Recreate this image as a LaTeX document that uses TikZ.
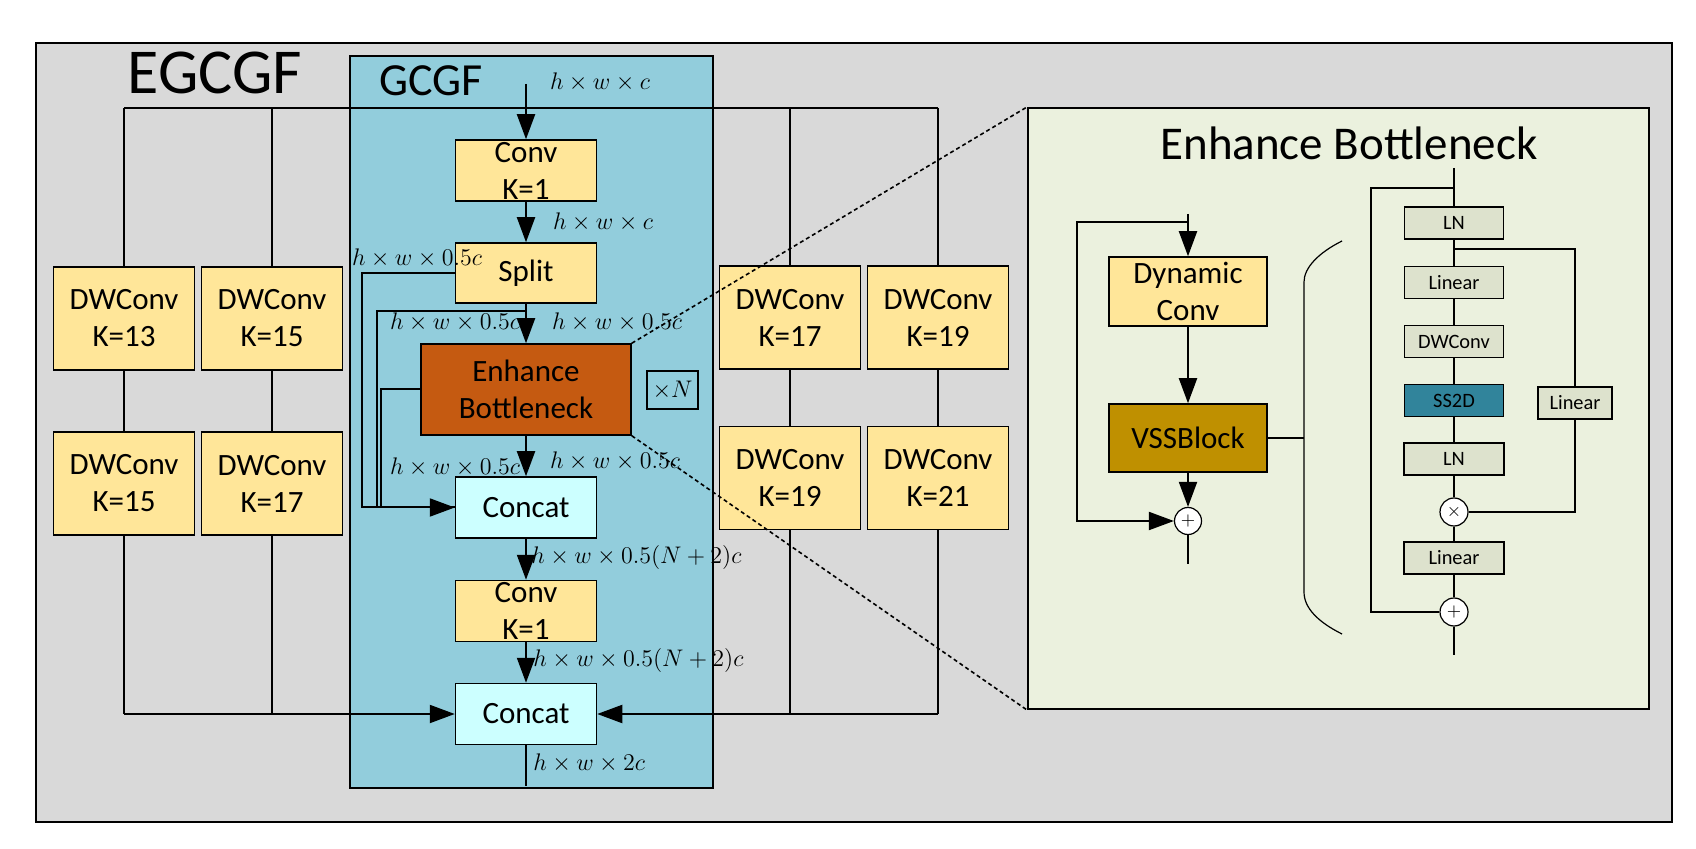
\documentclass[tikz,border=0pt]{standalone}
\usepackage{fontspec}
\setmainfont{Carlito}
\usetikzlibrary{arrows.meta}

\definecolor{framegray}{HTML}{D9D9D9}
\definecolor{gcgfblue}{HTML}{92CDDC}
\definecolor{convyellow}{HTML}{FFE699}
\definecolor{ebbrown}{HTML}{C55A11}
\definecolor{catcyan}{HTML}{CCFFFF}
\definecolor{panelgreen}{HTML}{EBF1DE}
\definecolor{vssgold}{HTML}{BF9000}
\definecolor{ssteal}{HTML}{31849B}
\definecolor{opgray}{HTML}{DDE2CD}

\begin{document}
\begin{tikzpicture}[x = 0.5pt, y = -0.5pt,
        line/.style = {line width = 1pt},
        arr/.style = {line width = 1pt, -{Triangle[length = 12.5pt, width = 9pt]}},
        box/.style = {draw, line width = 0.75pt, inner sep = 0pt, align = center, font = {\fontsize{15.5}{18.5}\selectfont}},
        dwbox/.style = {box, fill = convyellow, minimum width = 70.5pt, minimum height = 51.5pt},
        convbox/.style = {box, fill = convyellow, minimum width = 70.5pt, minimum height = 30.5pt},
        catbox/.style = {box, fill = catcyan, minimum width = 70.5pt, minimum height = 30.5pt},
        opbox/.style = {draw, line width = 0.75pt, fill = opgray, inner sep = 0pt, minimum width = 49.5pt, minimum height = 16pt, font = {\fontsize{10.2}{12}\selectfont}},
        opcirc/.style = {draw, circle, line width = 0.6pt, fill = white, inner sep = 0pt, minimum size = 14pt, font = {\fontsize{9}{9}\selectfont}},
        dims/.style = {font = {\fontsize{13.2}{15}\selectfont}, inner sep = 0pt},
        zoomline/.style = {line width = 0.8pt, dash pattern = on 2pt off 1.5pt}]
    \useasboundingbox (0,0) rectangle (1696,849);
    \draw[line, fill = framegray] (36,43) rectangle (1672,822);
    \node[font = {\fontsize{32}{32}\selectfont}] (egcgf) at (215,73) {EGCGF};
    \draw[line, fill = gcgfblue] (350,56) rectangle (713,788);
    \node[font = {\fontsize{23}{23}\selectfont}] (gcgf) at (431,81) {GCGF};

    \foreach \x [count = \i] in {124, 272, 790, 938} {
        \coordinate (top\i) at (\x,108);
        \coordinate (bot\i) at (\x,714);
        \draw[line] (top\i) -- (bot\i);
    }
    \draw[line] (top1) -- (top4);

    \foreach \n/\x/\y/\k in {dwa/124/318.5/13, dwb/272/318.5/15, dwc/124/483.5/15, dwd/272/483.5/17,
            dwe/790/317.5/17, dwf/938/317.5/19, dwg/790/478/19, dwh/938/478/21}
        \node[dwbox] (\n) at (\x,\y) {DWConv\\K=\k};

    \node[convbox] (conv1) at (526,170.5) {Conv\\K=1};
    \node[convbox, minimum height = 30pt] (split) at (526,273) {Split};
    \node[box, fill = ebbrown, minimum width = 105pt, minimum height = 45.5pt] (eb) at (526,389.5) {Enhance\\Bottleneck};
    \node[draw, line width = 0.6pt, minimum width = 25.5pt, minimum height = 19pt, dims] (times) at (672.5,390) {$\times N$};
    \node[catbox] (cc1) at (526,507.5) {Concat};
    \node[convbox] (conv2) at (526,611) {Conv\\K=1};
    \node[catbox] (cc2) at (526,714) {Concat};

    \node[dims] (din) at (600,82) {$h\times w\times c$};
    \node[dims] (dconv) at (603,222) {$h\times w\times c$};
    \node[dims] (dsplit) at (417,258) {$h\times w\times 0.5c$};
    \node[dims] (debl) at (455,322) {$h\times w\times 0.5c$};
    \node[dims] (debr) at (617,322) {$h\times w\times 0.5c$};
    \node[dims] (dcatl) at (455,467) {$h\times w\times 0.5c$};
    \node[dims] (dcatr) at (615,461) {$h\times w\times 0.5c$};
    \node[dims, anchor = west] (dconvb) at (531,557) {$h\times w\times 0.5(N+2)c$};
    \node[dims, anchor = west] (dcatb) at (533,660) {$h\times w\times 0.5(N+2)c$};
    \node[dims, anchor = west] (dout) at (533,763) {$h\times w\times 2c$};

    \coordinate (fb1) at (362,0);
    \coordinate (fb2) at (377,311);
    \coordinate (fb3) at (381,0);
    \draw[line] (split.west) -- (split.west -| fb1) |- (cc1.west);
    \draw[line] (split.south |- fb2) -- (fb2) |- (cc1.west);
    \draw[arr] (eb.west) -- (eb.west -| fb3) |- (cc1.west);

    \coordinate (in1) at (526,84);
    \coordinate (out1) at (526,786);
    \draw[arr] (in1) -- (conv1);
    \draw[arr] (conv1) -- (split);
    \draw[arr] (split) -- (eb);
    \draw[arr] (eb) -- (cc1);
    \draw[arr] (cc1) -- (conv2);
    \draw[arr] (conv2) -- (cc2);
    \draw[line] (cc2) -- (out1);
    \draw[arr] (bot1) -- (cc2.west);
    \draw[arr] (bot4) -- (cc2.east);

    \node[draw, line width = 1pt, fill = panelgreen, minimum width = 310.5pt, minimum height = 300.5pt, inner sep = 0pt] (panel) at (1338.5,408.5) {};
    \draw[zoomline] (eb.north east) -- (panel.north west);
    \draw[zoomline] (eb.south east) -- (panel.south west);
    \node[font = {\fontsize{23.5}{23.5}\selectfont}] (ebtitle) at (1349,143) {Enhance Bottleneck};

    \coordinate (in2) at (1188,214);
    \coordinate (out2) at (1188,564);
    \coordinate (sk1) at (1077,222.5);
    \node[box, fill = convyellow, minimum width = 79pt, minimum height = 34.5pt] (dyn) at (1188,291.5) {Dynamic\\Conv};
    \node[box, fill = vssgold, minimum width = 79pt, minimum height = 34pt] (vss) at (1188,438) {VSSBlock};
    \node[opcirc, minimum size = 13.5pt] (add1) at (1188,521) {$+$};
    \draw[arr] (in2) -- (dyn);
    \draw[arr] (dyn) -- (vss);
    \draw[arr] (vss) -- (add1);
    \draw[line] (add1) -- (out2);
    \draw[arr] (dyn.north |- sk1) -- (sk1) |- (add1.west);
    \coordinate (brc) at (1304,438);
    \draw[line] (vss.east) -- (brc);
    \draw[line width = 0.6pt] (1342,241) .. controls (1318,253) and (1304,268) .. (1304,282) -- (brc) -- (1304,592) .. controls (1304,608) and (1318,622) .. (1342,634);

    \coordinate (in3) at (1454,168);
    \coordinate (out3) at (1454,655);
    \node[opbox] (ln1) at (1454,223) {LN};
    \node[opbox] (lin1) at (1454,282.5) {Linear};
    \node[opbox] (dwconv) at (1454,341.5) {DWConv};
    \node[opbox, fill = ssteal] (ss2d) at (1454,400.5) {SS2D};
    \node[opbox, minimum width = 50pt] (ln2) at (1454,459) {LN};
    \node[opcirc] (mul) at (1454,512) {$\times$};
    \node[opbox, minimum width = 50pt] (lin2) at (1454,558) {Linear};
    \node[opcirc] (add2) at (1454,612) {$+$};
    \node[opbox, minimum width = 37pt] (lin3) at (1575,403) {Linear};
    \foreach \a/\b in {in3/ln1, ln1/lin1, lin1/dwconv, dwconv/ss2d, ss2d/ln2, ln2/mul, mul/lin2, lin2/add2, add2/out3}
        \draw[line] (\a) -- (\b);
    \coordinate (sk2) at (1371,188.5);
    \draw[line] (ln1.north |- sk2) -- (sk2) |- (add2.west);
    \coordinate (sd) at (1575,249.5);
    \draw[line] (ln1.south |- sd) -- (sd) -- (lin3);
    \draw[line] (lin3) |- (mul.east);
\end{tikzpicture}
\end{document}
